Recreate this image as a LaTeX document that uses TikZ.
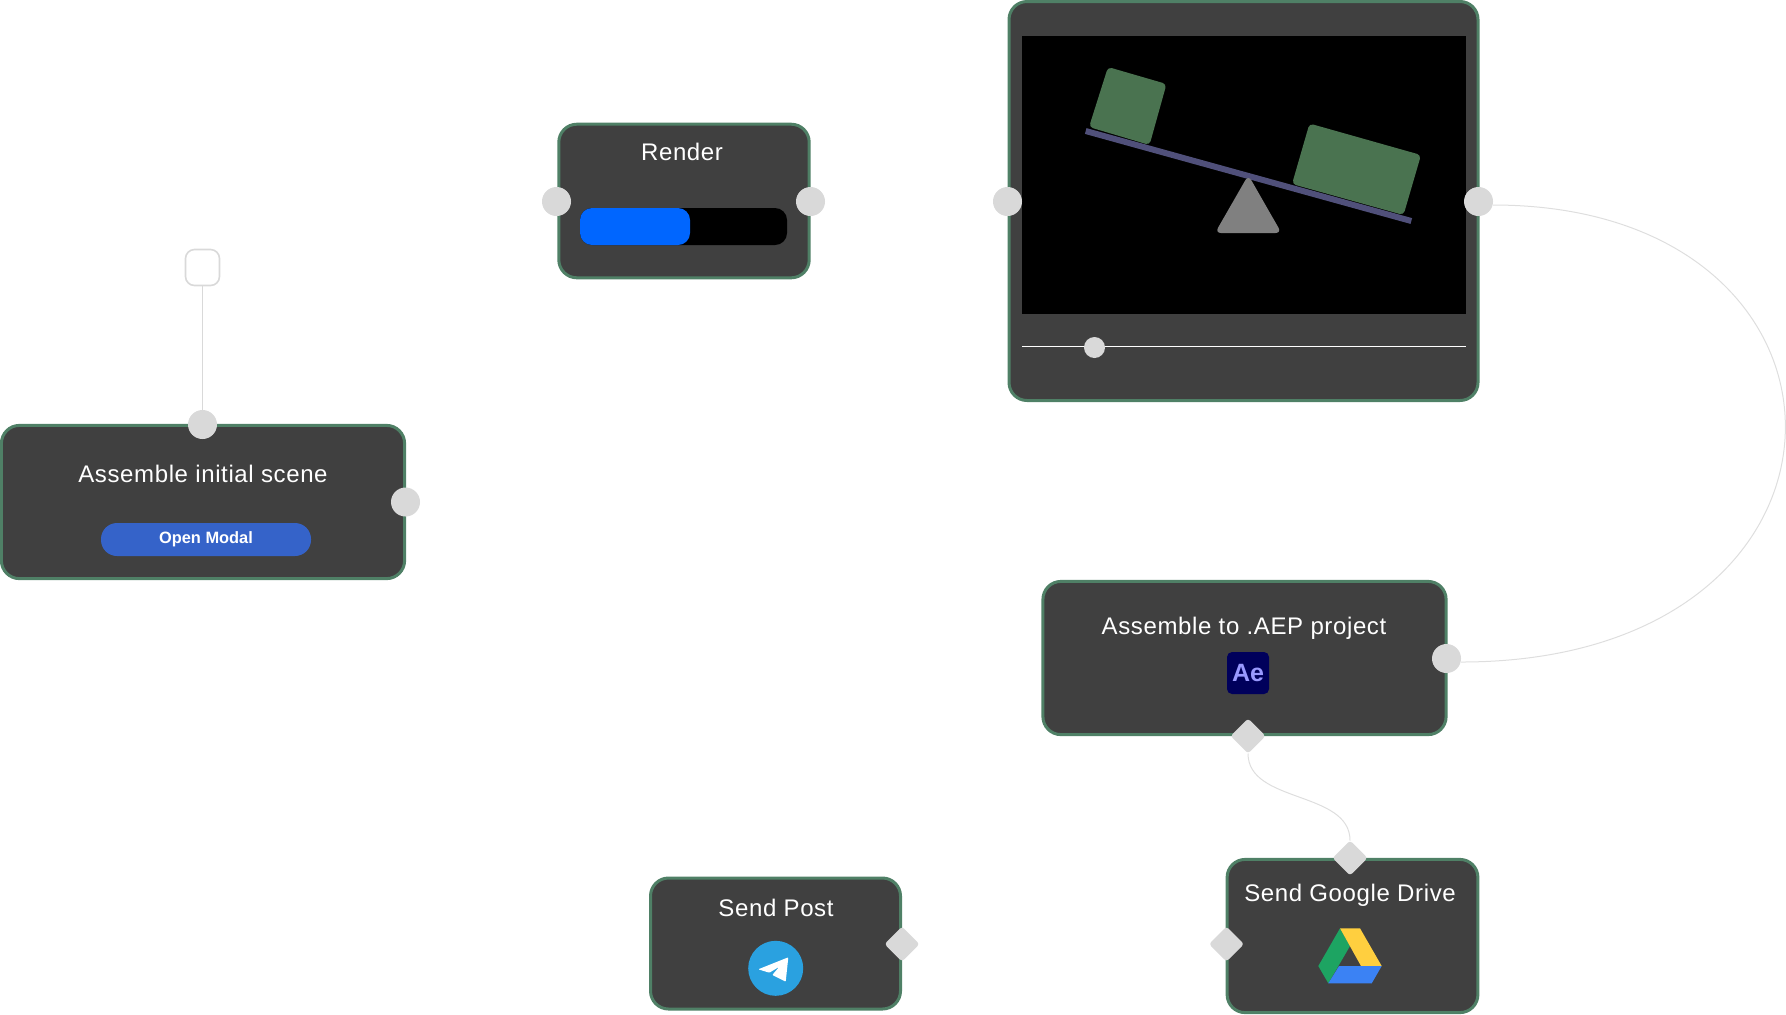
\documentclass[tikz,border=0pt]{standalone}
\usepackage{fontspec}
\setmainfont{Liberation Sans}
\newfontfamily\cardfont[LetterSpace=2.6]{Liberation Sans}
\usetikzlibrary{shapes.geometric}
\definecolor{carddark}{HTML}{404040}
\definecolor{cardedge}{HTML}{4F8066}
\definecolor{portgrey}{HTML}{D9D9D9}
\definecolor{wiregrey}{HTML}{DEDEDE}
\definecolor{boxgreen}{HTML}{4A7350}
\definecolor{beamblue}{HTML}{50507A}
\definecolor{modalblue}{HTML}{3563C9}
\definecolor{barblue}{HTML}{0066FF}
\definecolor{aeback}{HTML}{00005B}
\definecolor{aetext}{HTML}{9999FF}
\definecolor{tgblue}{HTML}{2AA1E0}
\definecolor{drivegreen}{HTML}{1DA462}
\definecolor{driveyellow}{HTML}{FFCF3F}
\definecolor{driveblue}{HTML}{3B82F4}
\tikzset{
  card/.style={draw=cardedge, fill=carddark, line width=1.5pt, rounded corners=9pt,
    inner sep=0pt, outer sep=0pt, minimum width=#1},
  port/.style={circle, fill=portgrey, inner sep=0pt, outer sep=0pt, minimum size=14.5pt},
  gate/.style={diamond, aspect=1, fill=portgrey, inner sep=0pt, outer sep=0pt,
    minimum size=17.5pt, rounded corners=1.5pt},
  cardtitle/.style={text=white, anchor=base, inner sep=0pt, font=\cardfont\fontsize{12}{14}\selectfont},
  wire/.style={draw=wiregrey, line width=0.5pt},
  solid box/.style={inner sep=0pt, outer sep=0pt}
}
\begin{document}
\begin{tikzpicture}[x=0.5pt, y=-0.5pt]
  \useasboundingbox (0,0) rectangle (1786,1014);

  \node [card=201.6pt, minimum height=76.6pt] (scene) at (203,502) {};
  \node [card=125.2pt, minimum height=76.8pt] (render) at (684,201) {};
  \node [card=234.5pt, minimum height=199.5pt] (preview) at (1243.5,201) {};
  \node [card=201.6pt, minimum height=76.6pt] (aep) at (1244.5,658) {};
  \node [card=125.4pt, minimum height=76.6pt] (drive) at (1352.5,936) {};
  \node [card=125pt, minimum height=65.5pt] (post) at (775.5,943.5) {};

  \node [cardtitle] (scenetitle) at (203,482.7) {Assemble initial scene};
  \node [cardtitle] (rendertitle) at (682,160) {Render};
  \node [cardtitle] (aeptitle) at (1244,634) {Assemble to .AEP project};
  \node [cardtitle] (posttitle) at (776,916) {Send Post};
  \node [cardtitle] (drivetitle) at (1350,901) {Send Google Drive};

  \node [solid box, fill=white, draw=portgrey, line width=0.8pt, rounded corners=4.5pt,
    minimum width=17pt, minimum height=18pt] (seed) at (202.5,267.5) {};
  \node [solid box, fill=modalblue, rounded corners=8pt, minimum width=105pt, minimum height=16.5pt,
    text=white, font=\bfseries\fontsize{8.2}{10}\selectfont] (openmodal) at (206,539.5) {Open Modal};

  % progress bar
  \node [solid box, fill=black, rounded corners=6pt, minimum width=103.5pt, minimum height=18.5pt] (track) at (683.5,226.5) {};
  \node [solid box, fill=barblue, rounded corners=6pt, minimum width=55pt, minimum height=18.5pt] (done) at (635,226.5) {};

  % seesaw
  \node [solid box, fill=black, minimum width=222pt, minimum height=139pt] (screen) at (1244,175) {};
  \fill [boxgreen, rounded corners=2pt] (1108,67) -- (1166.5,84) -- (1149.5,145) -- (1089,127) -- cycle;
  \fill [boxgreen, rounded corners=2pt] (1309.5,123.5) -- (1421,155) -- (1403.5,215) -- (1292,184) -- cycle;
  \draw [beamblue, line width=3pt] (1085.7,131) -- (1411.3,221);
  \fill [gray, rounded corners=3pt] (1248.3,175) -- (1281.5,233) -- (1215,233) -- cycle;

  % slider
  \coordinate (slidefrom) at (1022,346);
  \coordinate (slideto) at (1466,346);
  \draw [white, line width=0.5pt] (slidefrom) -- (slideto);
  \node [solid box, circle, fill=portgrey, minimum size=10.5pt] (thumb) at (1094.5,347.5) {};

  % icons
  \node [solid box, fill=aeback, rounded corners=2.5pt, minimum size=21pt,
    text=aetext, font=\bfseries\fontsize{12.5}{14}\selectfont] (aeicon) at (1248,673) {Ae};

  \node [solid box, circle, fill=tgblue, minimum size=27.5pt] (tgicon) at (775.7,968.3) {};
  \fill [white, rounded corners=0.4pt] (788.3,957.3) -- (758.3,969.3) -- (769.3,972.7) -- (779.3,966.7) -- (772.3,975) -- (785.7,981.7) -- cycle;

  \fill [drivegreen] (1340,928.3) -- (1318.3,966) -- (1328.3,983.3) -- (1350,946) -- cycle;
  \fill [driveyellow] (1340,928.3) -- (1360,928.3) -- (1381.7,966) -- (1361,966) -- cycle;
  \fill [driveblue] (1339,966) -- (1381.7,966) -- (1371.7,983.3) -- (1328.3,983.3) -- cycle;

  \foreach \name/\x/\y in {scenein/202.5/424.5, sceneout/405.5/502, renderin/556.5/201.5,
    renderout/810.5/201.5, previewin/1007.5/201.5, previewout/1478.5/201.5, aein/1446.5/658.5} {
    \node [port] (\name) at (\x,\y) {};
  }
  \foreach \name/\x/\y in {aeout/1248/736, drivein/1350/858, driveout/1226.5/944, postout/902/944} {
    \node [gate] (\name) at (\x,\y) {};
  }

  \draw [draw=portgrey, line width=0.6pt] (seed) -- (scenein);
  \draw [wire] ([yshift=-1.75pt]previewout.east) .. controls +(395,0) and +(427,0) .. ([yshift=-1.75pt]aein.east);
  \draw [wire] (aeout.south) .. controls +(0,50) and +(0,-50) .. (drivein.north);
\end{tikzpicture}
\end{document}
